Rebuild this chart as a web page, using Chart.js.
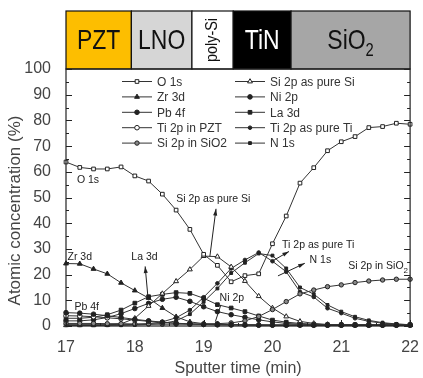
<!DOCTYPE html>
<html>
<head>
<meta charset="utf-8">
<script src="https://cdn.jsdelivr.net/npm/chart.js@4/dist/chart.umd.min.js"></script>
<style>
  html, body { margin: 0; padding: 0; background: #fff; }
  #wrap { width: 423px; height: 378px; }
</style>
</head>
<body>
<div id="wrap"><canvas id="depthChart"></canvas></div>
<script>
// sputter time (min)
const times = [17.0, 17.2, 17.4, 17.6, 17.8, 18.0, 18.2, 18.4, 18.6, 18.8, 19.0, 19.2, 19.4,
               19.6, 19.8, 20.0, 20.2, 20.4, 20.6, 20.8, 21.0, 21.2, 21.4, 21.6, 21.8, 22.0];

// atomic concentration (%)
const o1s      = [63.8, 61.7, 61.1, 61.1, 61.9, 58.4, 56.4, 51.3, 45.1, 37.6, 27.9, 23.6, 17.2, 19.6, 20.3, 32.0, 42.8, 55.6, 61.6, 68.2, 71.7, 73.7, 77.2, 77.6, 78.9, 78.5];
const zr3d     = [24.3, 24.2, 22.2, 20.3, 16.8, 13.8, 10.9, 7.0, 3.6, 1.6, 0.9, 0.7, 0.6, 0.5, 0.5, 0.4, 0.4, 0.4, 0.3, 0.3, 0.3, 0.3, 0.3, 0.3, 0.3, 0.3];
const pb4f     = [5.2, 5.0, 4.6, 4.0, 3.3, 2.6, 2.0, 1.5, 1.1, 0.8, 0.6, 0.5, 0.4, 0.4, 0.3, 0.3, 0.3, 0.3, 0.3, 0.3, 0.3, 0.3, 0.3, 0.3, 0.3, 0.3];
const ti2pPzt  = [4.0, 3.9, 3.6, 3.2, 2.8, 2.3, 1.8, 1.4, 1.0, 0.8, 0.6, 0.5, 0.5, 0.4, 0.4, 0.4, 0.4, 0.4, 0.4, 0.4, 0.4, 0.4, 0.4, 0.4, 0.4, 0.4];
const si2pSiO2 = [1.0, 1.0, 1.0, 0.9, 0.9, 0.8, 0.8, 0.7, 0.7, 0.7, 0.8, 0.9, 1.2, 2.0, 3.7, 6.4, 9.5, 12.5, 14.0, 15.3, 16.0, 16.9, 17.5, 17.9, 18.2, 18.2];
const si2pSi   = [0.3, 0.3, 0.3, 0.4, 0.8, 3.0, 7.8, 12.6, 17.4, 22.0, 27.2, 27.0, 23.0, 17.5, 11.6, 7.0, 3.7, 1.8, 1.0, 0.6, 0.5, 0.4, 0.4, 0.4, 0.4, 0.4];
const ni2p     = [2.0, 2.0, 2.4, 3.3, 4.8, 6.8, 8.8, 10.4, 11.2, 9.6, 7.5, 5.6, 4.4, 3.4, 2.4, 1.6, 1.0, 0.7, 0.5, 0.4, 0.4, 0.4, 0.4, 0.4, 0.4, 0.4];
const la3d     = [3.0, 3.0, 3.4, 4.4, 6.2, 8.9, 11.4, 12.3, 13.0, 12.7, 10.8, 8.3, 7.0, 5.6, 3.9, 2.3, 1.5, 1.0, 0.7, 0.5, 0.5, 0.5, 0.5, 0.5, 0.5, 0.5];
const ti2pTi   = [0.5, 0.5, 0.5, 0.5, 0.5, 0.6, 0.9, 1.6, 3.2, 6.2, 11.2, 16.6, 22.4, 25.7, 28.6, 25.2, 21.1, 13.3, 11.3, 6.9, 5.0, 3.0, 1.8, 1.1, 0.7, 0.5];
const n1s      = [0.3, 0.3, 0.3, 0.3, 0.3, 0.4, 0.6, 1.0, 2.0, 4.6, 9.4, 14.6, 20.6, 24.6, 28.2, 27.4, 22.4, 15.0, 12.4, 8.2, 5.6, 3.6, 2.2, 1.3, 0.8, 0.5];

const seriesNames = ['O 1s', 'Zr 3d', 'Pb 4f', 'Ti 2p in PZT', 'Si 2p in SiO2',
                     'Si 2p as pure Si', 'Ni 2p', 'La 3d', 'Ti 2p as pure Ti', 'N 1s'];
const seriesValues = [o1s, zr3d, pb4f, ti2pPzt, si2pSiO2, si2pSi, ni2p, la3d, ti2pTi, n1s];

// layer stack drawn above the plot (boundaries in minutes)
const layerNames = ['PZT', 'LNO', 'poly-Si', 'TiN', 'SiO2'];
const layerEdges = [17, 17.95, 18.83, 19.43, 20.27, 22];

const xTicks = [17, 18, 19, 20, 21, 22];
const yTicks = [0, 10, 20, 30, 40, 50, 60, 70, 80, 90, 100];

// marker looks, same order as seriesNames
const markers = [
  { style: 'rect', r: 2.6, fill: '#fff' },
  { style: 'triangle', r: 2.8, fill: '#222' },
  { style: 'circle', r: 2.3, fill: '#222' },
  { style: 'circle', r: 2.3, fill: '#fff' },
  { style: 'circle', r: 2.2, fill: '#888' },
  { style: 'triangle', r: 2.8, fill: '#fff' },
  { style: 'circle', r: 2.3, fill: '#222' },
  { style: 'rect', r: 2.6, fill: '#222' },
  { style: 'circle', r: 1.8, fill: '#222' },
  { style: 'rect', r: 2.0, fill: '#222' }
];

const FONT = 'Liberation Sans, Arial, sans-serif';

// squeezed text, the band lettering is a narrow face
function narrowText(c, text, x, y, size, squeeze) {
  c.save();
  c.font = size + 'px ' + FONT;
  c.translate(x, y);
  c.scale(squeeze, 1);
  c.fillText(text, 0, 0);
  const w = c.measureText(text).width * squeeze;
  c.restore();
  return w;
}

const layerBand = {
  id: 'layerBand',
  afterDraw(chart) {
    const c = chart.ctx, xs = chart.scales.x;
    const top = chart.chartArea.top - 58, bot = chart.chartArea.top;
    const fills = ['#FDBE00', '#D6D6D6', '#FFFFFF', '#000000', '#A6A6A6'];
    const inks = ['#111', '#111', '#111', '#fff', '#111'];
    c.save();
    layerNames.forEach((name, i) => {
      const x0 = xs.getPixelForValue(layerEdges[i]);
      const x1 = xs.getPixelForValue(layerEdges[i + 1]);
      c.fillStyle = fills[i];
      c.fillRect(x0, top, x1 - x0, bot - top);
      c.strokeStyle = '#111';
      c.lineWidth = 1.2;
      c.strokeRect(x0, top, x1 - x0, bot - top);
      c.fillStyle = inks[i];
      c.textBaseline = 'middle';
      c.textAlign = 'center';
      const cx = (x0 + x1) / 2, cy = (top + bot) / 2 + 1;
      if (name === 'poly-Si') {
        c.save();
        c.translate(cx, cy - 1);
        c.rotate(-Math.PI / 2);
        narrowText(c, name, 0, 0, 17, 0.85);
        c.restore();
      } else if (name === 'SiO2') {
        c.font = '28px ' + FONT;
        const w1 = c.measureText('SiO').width * 0.82;
        c.font = '18px ' + FONT;
        const w2 = c.measureText('2').width * 0.82;
        const sx = cx - (w1 + w2) / 2;
        c.textAlign = 'left';
        narrowText(c, 'SiO', sx, cy, 28, 0.82);
        narrowText(c, '2', sx + w1, cy + 10, 18, 0.82);
      } else {
        narrowText(c, name, cx, cy, 28, 0.82);
      }
    });
    c.restore();
  }
};

const frame = {
  id: 'frame',
  afterDraw(chart) {
    const c = chart.ctx, { left, right, top, bottom } = chart.chartArea;
    const xs = chart.scales.x, ys = chart.scales.y;
    c.save();
    c.strokeStyle = '#222';
    c.lineWidth = 1.2;
    c.strokeRect(left, top, right - left, bottom - top);
    c.lineWidth = 1;
    c.beginPath();
    for (let v = 0; v <= 100; v += 5) {
      const y = Math.round(ys.getPixelForValue(v)) + 0.5;
      const len = v % 10 === 0 ? 6 : 3;
      c.moveTo(left, y); c.lineTo(left + len, y);
      c.moveTo(right, y); c.lineTo(right - len, y);
    }
    for (let v = 17; v <= 22; v += 0.5) {
      const x = Math.round(xs.getPixelForValue(v)) + 0.5;
      const len = Number.isInteger(v) ? 6 : 3;
      c.moveTo(x, bottom); c.lineTo(x, bottom - len);
    }
    c.stroke();
    // y axis title
    c.fillStyle = '#444';
    c.font = '17px ' + FONT;
    c.textAlign = 'center';
    c.textBaseline = 'middle';
    c.translate(15, (top + bottom) / 2 + 13);
    c.rotate(-Math.PI / 2);
    c.fillText('Atomic concentration (%)', 0, 0);
    c.restore();
  }
};

const legendBox = {
  id: 'legendBox',
  afterDraw(chart) {
    const c = chart.ctx, { left, top } = chart.chartArea;
    c.save();
    c.font = '12px ' + FONT;
    c.textBaseline = 'middle';
    c.textAlign = 'left';
    seriesNames.forEach((name, i) => {
      const col = Math.floor(i / 5), row = i % 5;
      const x = left + 56 + col * 113;
      const y = top + 12.5 + row * 15.4;
      c.strokeStyle = '#333';
      c.lineWidth = 1;
      c.beginPath();
      c.moveTo(x, y); c.lineTo(x + 30, y);
      c.stroke();
      const m = markers[i];
      c.fillStyle = m.fill;
      c.strokeStyle = '#222';
      Chart.helpers.drawPoint(c, { pointStyle: m.style, radius: m.r, borderWidth: 1, rotation: 0 }, x + 15, y);
      c.fillStyle = '#333';
      c.fillText(name, x + 35, y + 1);
    });
    c.restore();
  }
};

// labels and pointer arrows, in data units
const notes = [
  { text: 'O 1s', x: 17.32, y: 56.6 },
  { text: 'Zr 3d', x: 17.2, y: 26.9 },
  { text: 'Pb 4f', x: 17.3, y: 7.5 },
  { text: 'La 3d', x: 18.14, y: 26.9, from: [18.19, 11.4], to: [18.15, 23.2] },
  { text: 'Si 2p as pure Si', x: 19.14, y: 49.4, from: [19.09, 27.0], to: [19.18, 45.6] },
  { text: 'Ni 2p', x: 19.41, y: 10.9, from: [19.17, 1.7], to: [19.25, 8.2], plain: true },
  { text: 'Ti 2p as pure Ti', x: 20.14, y: 31.6, align: 'left', from: [19.98, 25.0], to: [20.24, 29.0] },
  { text: 'N 1s', x: 20.54, y: 25.8, align: 'left', from: [20.08, 19.5], to: [20.47, 24.4] },
  { text: 'Si 2p in SiO', sub: '2', x: 21.1, y: 23.3, align: 'left' }
];

const noteLayer = {
  id: 'noteLayer',
  afterDraw(chart) {
    const c = chart.ctx, xs = chart.scales.x, ys = chart.scales.y;
    c.save();
    c.fillStyle = '#222';
    c.strokeStyle = '#222';
    c.lineWidth = 1;
    notes.forEach(n => {
      c.font = '10.5px ' + FONT;
      c.textBaseline = 'middle';
      c.textAlign = n.align || 'center';
      const px = xs.getPixelForValue(n.x), py = ys.getPixelForValue(n.y);
      c.fillText(n.text, px, py);
      if (n.sub) {
        const w = c.measureText(n.text).width;
        c.font = '8px ' + FONT;
        c.textAlign = 'left';
        c.fillText(n.sub, px + w, py + 5);
      }
      if (n.from) {
        const x0 = xs.getPixelForValue(n.from[0]), y0 = ys.getPixelForValue(n.from[1]);
        const x1 = xs.getPixelForValue(n.to[0]), y1 = ys.getPixelForValue(n.to[1]);
        c.beginPath();
        c.moveTo(x0, y0); c.lineTo(x1, y1);
        c.stroke();
        if (!n.plain) {
          const a = Math.atan2(y1 - y0, x1 - x0);
          c.beginPath();
          c.moveTo(x1, y1);
          c.lineTo(x1 - 7 * Math.cos(a - 0.3), y1 - 7 * Math.sin(a - 0.3));
          c.lineTo(x1 - 7 * Math.cos(a + 0.3), y1 - 7 * Math.sin(a + 0.3));
          c.closePath();
          c.fill();
        }
      }
    });
    c.restore();
  }
};

const ctx = document.getElementById('depthChart').getContext('2d');
new Chart(ctx, {
  type: 'line',
  data: {
    datasets: seriesNames.map((name, i) => ({
      label: name,
      data: times.map((t, k) => ({ x: t, y: seriesValues[i][k] })),
      borderColor: '#333',
      borderWidth: 1,
      backgroundColor: markers[i].fill,
      pointStyle: markers[i].style,
      pointRadius: markers[i].r,
      pointBorderWidth: 1,
      pointBorderColor: '#222',
      pointBackgroundColor: markers[i].fill,
      tension: 0,
      clip: false
    }))
  },
  options: {
    responsive: true,
    maintainAspectRatio: false,
    animation: false,
    layout: { padding: { top: 69, right: 8, left: 0, bottom: 0 } },
    scales: {
      x: {
        type: 'linear', min: 17, max: 22,
        afterBuildTicks: s => { s.ticks = xTicks.map(v => ({ value: v })); },
        afterFit: s => { s.height = 52; },
        grid: { display: false },
        border: { display: false },
        ticks: { color: '#444', font: { size: 16, family: FONT }, padding: 4 },
        title: { display: true, text: 'Sputter time (min)', color: '#444', font: { size: 16, family: FONT }, padding: { top: 0, bottom: 0 } }
      },
      y: {
        min: 0, max: 100,
        afterBuildTicks: s => { s.ticks = yTicks.map(v => ({ value: v })); },
        afterFit: s => { s.width = 66; },
        grid: { display: false },
        border: { display: false },
        ticks: { color: '#444', font: { size: 16, family: FONT }, padding: 7 }
      }
    },
    plugins: { legend: { display: false }, tooltip: { enabled: false } }
  },
  plugins: [layerBand, frame, legendBox, noteLayer]
});
</script>
</body>
</html>
